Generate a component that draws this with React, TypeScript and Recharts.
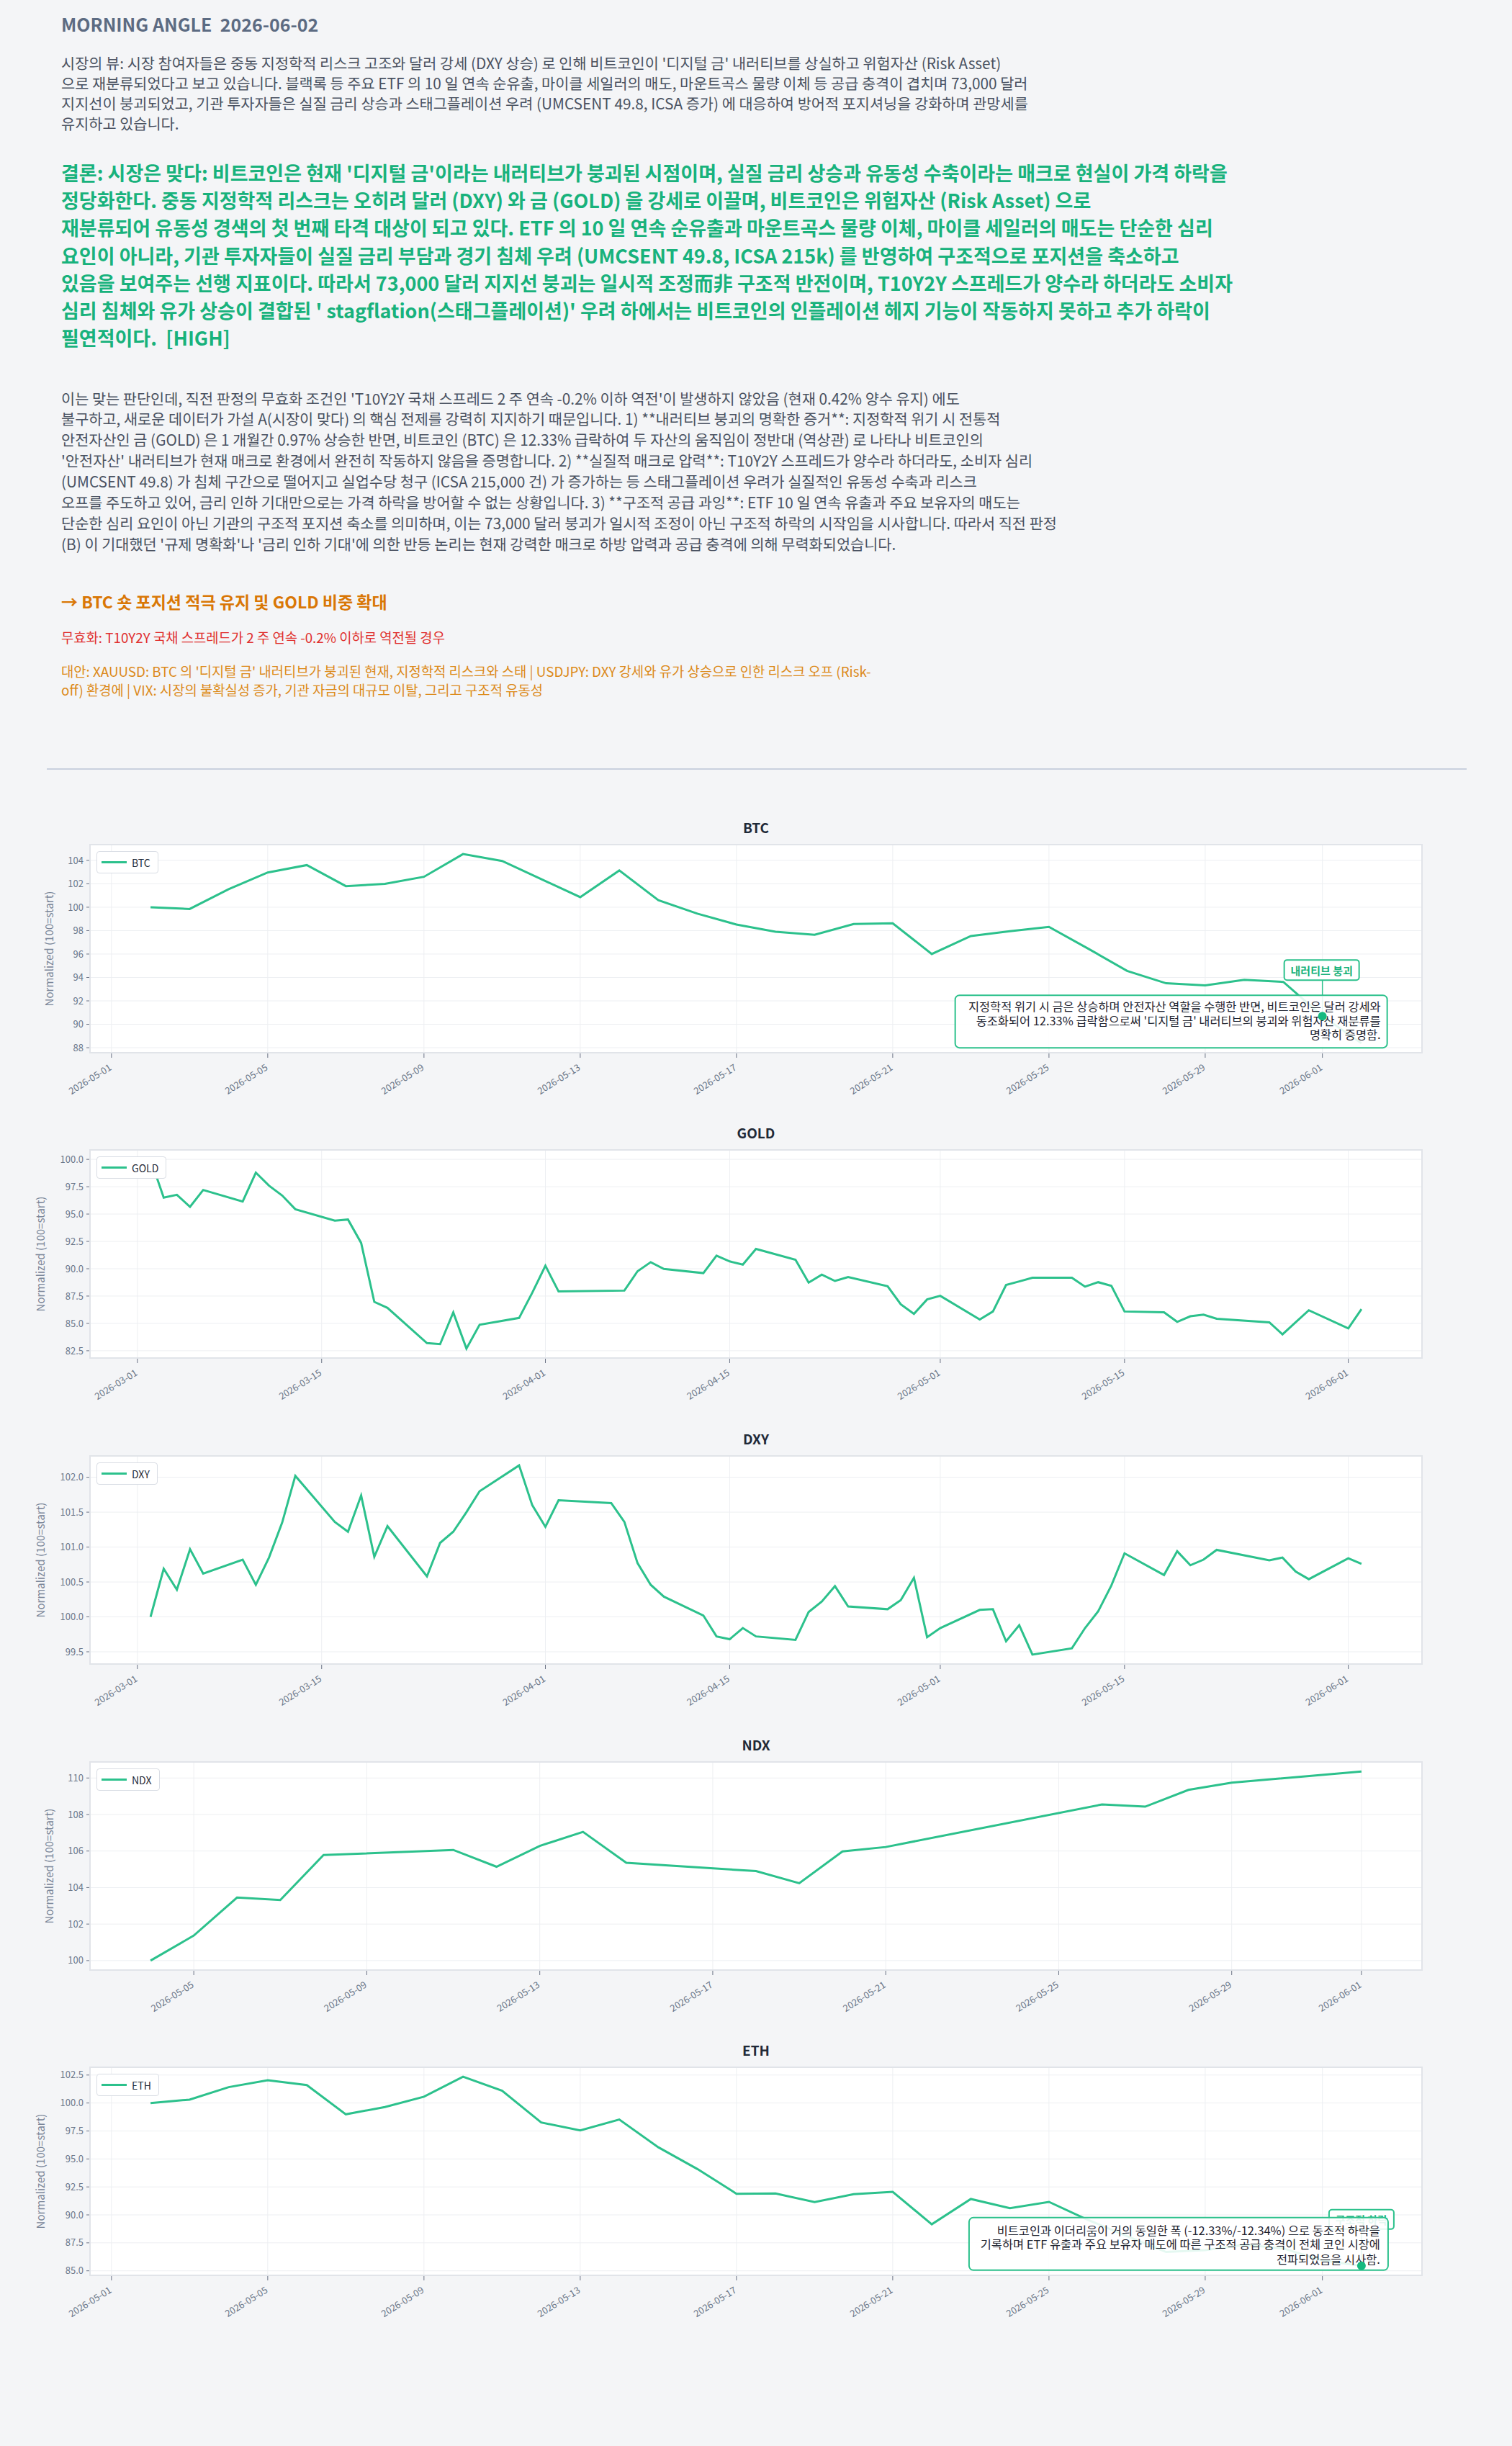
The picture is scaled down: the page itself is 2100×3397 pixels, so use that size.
import React from "react";
import { LineChart, Line, XAxis, YAxis, CartesianGrid, Legend } from "recharts";

const FONT = "'Noto Sans CJK KR', 'Noto Sans', sans-serif";
const GREEN = "#2cc18c";
const TEXT_GREEN = "#18b27c";
const AXIS_GRAY = "#6b7789";

// ---- series ----
const BTC_DATES = [
  "2026-05-02", "2026-05-03", "2026-05-04", "2026-05-05", "2026-05-06", "2026-05-07", "2026-05-08", "2026-05-09",
  "2026-05-10", "2026-05-11", "2026-05-12", "2026-05-13", "2026-05-14", "2026-05-15", "2026-05-16", "2026-05-17",
  "2026-05-18", "2026-05-19", "2026-05-20", "2026-05-21", "2026-05-22", "2026-05-23", "2026-05-24", "2026-05-25",
  "2026-05-26", "2026-05-27", "2026-05-28", "2026-05-29", "2026-05-30", "2026-05-31", "2026-06-01", "2026-06-02",
];
const BTC_VALUES = [
  100.0, 99.85, 101.54, 102.97, 103.6, 101.8, 102.0, 102.6,
  104.54, 103.95, 102.4, 100.86, 103.14, 100.6, 99.45, 98.52,
  97.9, 97.64, 98.56, 98.63, 96.0, 97.54, 97.95, 98.32,
  96.47, 94.56, 93.5, 93.33, 93.8, 93.62, 90.7, 88.38,
];

const ETH_DATES = BTC_DATES;
const ETH_VALUES = [
  100.0, 100.3, 101.42, 102.03, 101.6, 98.99, 99.64, 100.56,
  102.35, 101.1, 98.26, 97.55, 98.52, 96.04, 94.1, 91.89,
  91.91, 91.14, 91.85, 92.06, 89.16, 91.42, 90.6, 91.16,
  89.55, 88.1, 86.68, 86.85, 87.33, 87.0, 85.93, 85.44,
];

const GOLD_DATES = [
  "2026-03-02", "2026-03-03", "2026-03-04", "2026-03-05", "2026-03-06", "2026-03-09", "2026-03-10", "2026-03-11",
  "2026-03-12", "2026-03-13", "2026-03-16", "2026-03-17", "2026-03-18", "2026-03-19", "2026-03-20", "2026-03-23",
  "2026-03-24", "2026-03-25", "2026-03-26", "2026-03-27", "2026-03-30", "2026-03-31", "2026-04-01", "2026-04-02",
  "2026-04-07", "2026-04-08", "2026-04-09", "2026-04-10", "2026-04-13", "2026-04-14", "2026-04-15", "2026-04-16",
  "2026-04-17", "2026-04-20", "2026-04-21", "2026-04-22", "2026-04-23", "2026-04-24", "2026-04-27", "2026-04-28",
  "2026-04-29", "2026-04-30", "2026-05-01", "2026-05-04", "2026-05-05", "2026-05-06", "2026-05-07", "2026-05-08",
  "2026-05-11", "2026-05-12", "2026-05-13", "2026-05-14", "2026-05-15", "2026-05-18", "2026-05-19", "2026-05-20",
  "2026-05-21", "2026-05-22", "2026-05-26", "2026-05-27", "2026-05-28", "2026-05-29", "2026-06-01", "2026-06-02",
];
const GOLD_VALUES = [
  100.0, 96.5, 96.76, 95.66, 97.2, 96.15, 98.79, 97.6,
  96.7, 95.44, 94.4, 94.5, 92.36, 86.97, 86.42, 83.2,
  83.1, 86.0, 82.7, 84.88, 85.5, 87.8, 90.27, 87.92,
  88.0, 89.77, 90.6, 89.98, 89.6, 91.2, 90.67, 90.38,
  91.81, 90.82, 88.73, 89.46, 88.88, 89.24, 88.4, 86.75,
  85.87, 87.19, 87.52, 85.36, 86.09, 88.51, 88.84, 89.17,
  89.17, 88.36, 88.77, 88.44, 86.09, 86.02, 85.14, 85.65,
  85.8, 85.43, 85.1, 84.0, 85.1, 86.2, 84.55, 86.3,
];

const DXY_DATES = [
  "2026-03-02", "2026-03-03", "2026-03-04", "2026-03-05", "2026-03-06", "2026-03-09", "2026-03-10", "2026-03-11",
  "2026-03-12", "2026-03-13", "2026-03-16", "2026-03-17", "2026-03-18", "2026-03-19", "2026-03-20", "2026-03-23",
  "2026-03-24", "2026-03-25", "2026-03-26", "2026-03-27", "2026-03-30", "2026-03-31", "2026-04-01", "2026-04-02",
  "2026-04-06", "2026-04-07", "2026-04-08", "2026-04-09", "2026-04-10", "2026-04-13", "2026-04-14", "2026-04-15",
  "2026-04-16", "2026-04-17", "2026-04-20", "2026-04-21", "2026-04-22", "2026-04-23", "2026-04-24", "2026-04-27",
  "2026-04-28", "2026-04-29", "2026-04-30", "2026-05-01", "2026-05-04", "2026-05-05", "2026-05-06", "2026-05-07",
  "2026-05-08", "2026-05-11", "2026-05-12", "2026-05-13", "2026-05-14", "2026-05-15", "2026-05-18", "2026-05-19",
  "2026-05-20", "2026-05-21", "2026-05-22", "2026-05-26", "2026-05-27", "2026-05-28", "2026-05-29", "2026-06-01",
  "2026-06-02",
];
const DXY_VALUES = [
  100.0, 100.69, 100.39, 100.97, 100.62, 100.82, 100.46, 100.85,
  101.35, 102.02, 101.36, 101.22, 101.74, 100.86, 101.3, 100.58,
  101.06, 101.22, 101.5, 101.8, 102.17, 101.6, 101.29, 101.67,
  101.63, 101.36, 100.77, 100.46, 100.29, 100.02, 99.72, 99.68,
  99.84, 99.72, 99.67, 100.07, 100.22, 100.44, 100.15, 100.11,
  100.24, 100.56, 99.71, 99.84, 100.1, 100.11, 99.65, 99.88,
  99.46, 99.55, 99.84, 100.08, 100.45, 100.91, 100.6, 100.94,
  100.74, 100.82, 100.96, 100.81, 100.85, 100.65, 100.54, 100.84,
  100.76,
];

const NDX_DATES = [
  "2026-05-04", "2026-05-05", "2026-05-06", "2026-05-07", "2026-05-08", "2026-05-11", "2026-05-12", "2026-05-13",
  "2026-05-14", "2026-05-15", "2026-05-18", "2026-05-19", "2026-05-20", "2026-05-21", "2026-05-26", "2026-05-27",
  "2026-05-28", "2026-05-29", "2026-06-01",
];
const NDX_VALUES = [
  100.0, 101.37, 103.45, 103.32, 105.78, 106.06, 105.14, 106.28,
  107.05, 105.36, 104.9, 104.24, 105.98, 106.22, 108.55, 108.43,
  109.35, 109.74, 110.36,
];

// ---- axis ticks ----
const MAY_TICKS = ["2026-05-01", "2026-05-05", "2026-05-09", "2026-05-13", "2026-05-17", "2026-05-21", "2026-05-25", "2026-05-29", "2026-06-01"];
const NDX_TICKS = ["2026-05-05", "2026-05-09", "2026-05-13", "2026-05-17", "2026-05-21", "2026-05-25", "2026-05-29", "2026-06-01"];
const QUARTER_TICKS = ["2026-03-01", "2026-03-15", "2026-04-01", "2026-04-15", "2026-05-01", "2026-05-15", "2026-06-01"];
const BTC_Y_TICKS = [88, 90, 92, 94, 96, 98, 100, 102, 104];
const GOLD_Y_TICKS = [82.5, 85, 87.5, 90, 92.5, 95, 97.5, 100];
const DXY_Y_TICKS = [99.5, 100, 100.5, 101, 101.5, 102];
const NDX_Y_TICKS = [100, 102, 104, 106, 108, 110];
const ETH_Y_TICKS = [85, 87.5, 90, 92.5, 95, 97.5, 100, 102.5];

// ---- text ----
const VIEW_LINES = [
  "시장의 뷰: 시장 참여자들은 중동 지정학적 리스크 고조와 달러 강세 (DXY 상승) 로 인해 비트코인이 '디지털 금' 내러티브를 상실하고 위험자산 (Risk Asset)",
  "으로 재분류되었다고 보고 있습니다. 블랙록 등 주요 ETF 의 10 일 연속 순유출, 마이클 세일러의 매도, 마운트곡스 물량 이체 등 공급 충격이 겹치며 73,000 달러",
  "지지선이 붕괴되었고, 기관 투자자들은 실질 금리 상승과 스태그플레이션 우려 (UMCSENT 49.8, ICSA 증가) 에 대응하여 방어적 포지셔닝을 강화하며 관망세를",
  "유지하고 있습니다.",
];
const VERDICT_LINES = [
  "결론: 시장은 맞다: 비트코인은 현재 '디지털 금'이라는 내러티브가 붕괴된 시점이며, 실질 금리 상승과 유동성 수축이라는 매크로 현실이 가격 하락을",
  "정당화한다. 중동 지정학적 리스크는 오히려 달러 (DXY) 와 금 (GOLD) 을 강세로 이끌며, 비트코인은 위험자산 (Risk Asset) 으로",
  "재분류되어 유동성 경색의 첫 번째 타격 대상이 되고 있다. ETF 의 10 일 연속 순유출과 마운트곡스 물량 이체, 마이클 세일러의 매도는 단순한 심리",
  "요인이 아니라, 기관 투자자들이 실질 금리 부담과 경기 침체 우려 (UMCSENT 49.8, ICSA 215k) 를 반영하여 구조적으로 포지션을 축소하고",
  "있음을 보여주는 선행 지표이다. 따라서 73,000 달러 지지선 붕괴는 일시적 조정而非 구조적 반전이며, T10Y2Y 스프레드가 양수라 하더라도 소비자",
  "심리 침체와 유가 상승이 결합된 ' stagflation(스태그플레이션)' 우려 하에서는 비트코인의 인플레이션 헤지 기능이 작동하지 못하고 추가 하락이",
  "필연적이다.  [HIGH]",
];
const REASON_LINES = [
  "이는 맞는 판단인데, 직전 판정의 무효화 조건인 'T10Y2Y 국채 스프레드 2 주 연속 -0.2% 이하 역전'이 발생하지 않았음 (현재 0.42% 양수 유지) 에도",
  "불구하고, 새로운 데이터가 가설 A(시장이 맞다) 의 핵심 전제를 강력히 지지하기 때문입니다. 1) **내러티브 붕괴의 명확한 증거**: 지정학적 위기 시 전통적",
  "안전자산인 금 (GOLD) 은 1 개월간 0.97% 상승한 반면, 비트코인 (BTC) 은 12.33% 급락하여 두 자산의 움직임이 정반대 (역상관) 로 나타나 비트코인의",
  "'안전자산' 내러티브가 현재 매크로 환경에서 완전히 작동하지 않음을 증명합니다. 2) **실질적 매크로 압력**: T10Y2Y 스프레드가 양수라 하더라도, 소비자 심리",
  "(UMCSENT 49.8) 가 침체 구간으로 떨어지고 실업수당 청구 (ICSA 215,000 건) 가 증가하는 등 스태그플레이션 우려가 실질적인 유동성 수축과 리스크",
  "오프를 주도하고 있어, 금리 인하 기대만으로는 가격 하락을 방어할 수 없는 상황입니다. 3) **구조적 공급 과잉**: ETF 10 일 연속 유출과 주요 보유자의 매도는",
  "단순한 심리 요인이 아닌 기관의 구조적 포지션 축소를 의미하며, 이는 73,000 달러 붕괴가 일시적 조정이 아닌 구조적 하락의 시작임을 시사합니다. 따라서 직전 판정",
  "(B) 이 기대했던 '규제 명확화'나 '금리 인하 기대'에 의한 반등 논리는 현재 강력한 매크로 하방 압력과 공급 충격에 의해 무력화되었습니다.",
];
const ACTION = "→ BTC 숏 포지션 적극 유지 및 GOLD 비중 확대";
const INVALIDATION = "무효화: T10Y2Y 국채 스프레드가 2 주 연속 -0.2% 이하로 역전될 경우";
const ALT_LINES = [
  "대안: XAUUSD: BTC 의 '디지털 금' 내러티브가 붕괴된 현재, 지정학적 리스크와 스태 | USDJPY: DXY 강세와 유가 상승으로 인한 리스크 오프 (Risk-",
  "off) 환경에 | VIX: 시장의 불확실성 증가, 기관 자금의 대규모 이탈, 그리고 구조적 유동성",
];

type Note = {
  date: string;
  tag: string;
  tagBox: [number, number, number, number];
  box: [number, number, number, number];
  textRight: number;
  lineY: number[];
  lines: string[];
};

const BTC_NOTE: Note = {
  date: "2026-06-01",
  tag: "내러티브 붕괴",
  tagBox: [-53, -78, 104, 28],
  box: [-510, -29, 600, 73],
  textRight: 81,
  lineY: [-14, 5.5, 25],
  lines: [
    "지정학적 위기 시 금은 상승하며 안전자산 역할을 수행한 반면, 비트코인은 달러 강세와",
    "동조화되어 12.33% 급락함으로써 '디지털 금' 내러티브의 붕괴와 위험자산 재분류를",
    "명확히 증명함.",
  ],
};
const ETH_NOTE: Note = {
  date: "2026-06-02",
  tag: "구조적 하락",
  tagBox: [-45, -78, 90, 27],
  box: [-545, -67, 582, 73],
  textRight: 26,
  lineY: [-50, -30.5, -10],
  lines: [
    "비트코인과 이더리움이 거의 동일한 폭 (-12.33%/-12.34%) 으로 동조적 하락을",
    "기록하며 ETF 유출과 주요 보유자 매도에 따른 구조적 공급 충격이 전체 코인 시장에",
    "전파되었음을 시사함.",
  ],
};

const DAY = 86400000;
const toDay = (s: string) => {
  const [y, m, d] = s.split("-").map(Number);
  return Date.UTC(y, m - 1, d) / DAY;
};
const fmtDay = (n: number) => new Date(Math.round(n) * DAY).toISOString().slice(0, 10);
// 5% padding on both sides of the data range
const pad = (lo: number, hi: number): [number, number] => {
  const r = hi - lo;
  return [lo - r * 0.05, hi + r * 0.05];
};

function TextLines(props: {
  x: number; y: number; lh: number; size: number; color: string; weight?: number; lines: string[];
}) {
  const { x, y, lh, size, color, weight = 400, lines } = props;
  return (
    <div
      style={{
        position: "absolute", left: x, top: y - lh / 2, fontSize: size, lineHeight: `${lh}px`,
        color, fontWeight: weight, fontFamily: FONT, whiteSpace: "pre",
      }}
    >
      {lines.map((l, i) => (
        <div key={i}>{l}</div>
      ))}
    </div>
  );
}

function DateTick(props: any) {
  const { x, y, payload } = props;
  const ty = y + 14;
  return (
    <text
      x={x + 1} y={ty} transform={`rotate(-32 ${x + 1} ${ty})`} textAnchor="end"
      fill={AXIS_GRAY} fontSize={13} fontFamily={FONT}
    >
      {fmtDay(payload.value)}
    </text>
  );
}

function NoteMark({ cx, cy, note }: { cx: number; cy: number; note: Note }) {
  const [tx, ty, tw, th] = note.tagBox;
  const [bx, by, bw, bh] = note.box;
  return (
    <g>
      <line x1={cx} y1={cy + ty + th} x2={cx} y2={cy} stroke={GREEN} strokeWidth={1.5} />
      <rect x={cx + tx} y={cy + ty} width={tw} height={th} rx={4} fill="#fff" stroke={GREEN} strokeWidth={2} />
      <text
        x={cx + tx + tw / 2} y={cy + ty + th / 2} textAnchor="middle" dominantBaseline="central"
        fontSize={15} fontWeight={700} fill={TEXT_GREEN} fontFamily={FONT}
      >
        {note.tag}
      </text>
      <rect
        x={cx + bx} y={cy + by} width={bw} height={bh} rx={6}
        fill="#fff" fillOpacity={0.88} stroke={GREEN} strokeWidth={2}
      />
      {note.lines.map((l, i) => (
        <text
          key={i} x={cx + note.textRight} y={cy + note.lineY[i]} textAnchor="end" dominantBaseline="central"
          fontSize={16.4} fill="#1f2430" fontFamily={FONT}
        >
          {l}
        </text>
      ))}
      <circle cx={cx} cy={cy} r={6} fill="#16b97f" />
    </g>
  );
}

const CHART_W = 1960;
const PLOT_H = 289;
const TOP_GAP = 10;
const X_AXIS_H = 70;

function Panel(props: {
  name: string; dates: string[]; values: number[]; xTicks: string[]; yTicks: number[];
  yDigits: number; plotTop: number; yLabelX: number; note?: Note;
}) {
  const { name, dates, values, xTicks, yTicks, yDigits, plotTop, yLabelX, note } = props;
  const data = dates.map((d, i) => ({ t: toDay(d), v: values[i] }));
  const xDomain = pad(data[0].t, data[data.length - 1].t);
  const yDomain = pad(Math.min(...values), Math.max(...values));
  const noteIdx = note ? dates.indexOf(note.date) : -1;
  const chartTop = plotTop - TOP_GAP;
  const height = TOP_GAP + PLOT_H + X_AXIS_H;

  return (
    <>
      <div
        style={{
          position: "absolute", left: 125, width: 1850, top: plotTop - 36, height: 24, lineHeight: "24px",
          textAlign: "center", fontFamily: FONT, fontWeight: 700, fontSize: 19, color: "#1f2937",
        }}
      >
        {name}
      </div>
      <div style={{ position: "absolute", left: 40, top: chartTop, width: CHART_W, height }}>
        <LineChart width={CHART_W} height={height} data={data} margin={{ top: TOP_GAP, right: 25, bottom: 0, left: 0 }}>
          <CartesianGrid stroke="#edeff2" fill="#ffffff" />
          <XAxis
            dataKey="t" type="number" domain={xDomain} ticks={xTicks.map(toDay)} height={X_AXIS_H}
            axisLine={false} tickLine={{ stroke: "#6b7385" }} tickSize={7} tick={<DateTick />}
          />
          <YAxis
            type="number" domain={yDomain} ticks={yTicks} width={85} axisLine={false}
            tickLine={{ stroke: "#6b7385" }} tickSize={5} tickMargin={4}
            tickFormatter={(v: number) => v.toFixed(yDigits)}
            tick={{ fill: AXIS_GRAY, fontSize: 13, fontFamily: FONT }}
            label={{
              position: "insideLeft",
              content: (p: any) => {
                const vb = p.viewBox || {};
                const cy = (vb.y ?? TOP_GAP) + (vb.height ?? PLOT_H) / 2;
                const x = yLabelX - 40;
                return (
                  <text
                    x={x} y={cy} transform={`rotate(-90 ${x} ${cy})`} textAnchor="middle" dominantBaseline="central"
                    fill="#7a8699" fontSize={15} fontFamily={FONT}
                  >
                    Normalized (100=start)
                  </text>
                );
              },
            }}
          />
          <Legend
            layout="horizontal" verticalAlign="middle" align="center"
            wrapperStyle={{ top: TOP_GAP + 9, left: 94, width: "auto" }}
            content={() => (
              <div
                style={{
                  display: "flex", alignItems: "center", height: 31, boxSizing: "border-box",
                  padding: "0 10px 0 6px", background: "#fff", border: "1.5px solid #d9dde4", borderRadius: 4,
                  fontFamily: FONT, fontSize: 14, color: "#1f2937",
                }}
              >
                <span style={{ display: "inline-block", width: 35, height: 3, background: GREEN, marginRight: 7 }} />
                {name}
              </div>
            )}
          />
          <Line
            dataKey="v" name={name} type="linear" stroke={GREEN} strokeWidth={3} isAnimationActive={false}
            dot={(p: any) =>
              p.index === noteIdx && note ? (
                <NoteMark key="note" cx={p.cx} cy={p.cy} note={note} />
              ) : (
                <g key={`d${p.index}`} />
              )
            }
            activeDot={false}
          />
        </LineChart>
        <div
          style={{
            position: "absolute", left: 85, top: TOP_GAP - 1, width: 1850 + 2, height: PLOT_H + 2,
            marginLeft: -1, border: "2px solid #e1e4e9", boxSizing: "border-box", pointerEvents: "none",
          }}
        />
      </div>
    </>
  );
}

export default function App() {
  return (
    <div style={{ position: "absolute", left: 0, top: 0, width: 2100, height: 3397, background: "#f4f5f7", overflow: "hidden" }}>
      <TextLines x={85} y={33} lh={30} size={25} weight={700} color="#5c6b82" lines={["MORNING ANGLE  2026-06-02"]} />
      <TextLines x={85} y={87} lh={28} size={20.8} color="#4a5261" lines={VIEW_LINES} />
      <TextLines x={85} y={240} lh={38.2} size={27} weight={700} color={TEXT_GREEN} lines={VERDICT_LINES} />
      <TextLines x={85} y={553} lh={28.9} size={20.8} color="#4a5261" lines={REASON_LINES} />
      <TextLines x={85} y={835} lh={30} size={23} weight={700} color="#d97706" lines={[ACTION]} />
      <TextLines x={85} y={884} lh={25} size={18.8} color="#e0302f" lines={[INVALIDATION]} />
      <TextLines x={85} y={932} lh={25.5} size={18.8} color="#dc8a1a" lines={ALT_LINES} />
      <div style={{ position: "absolute", left: 65, top: 1067, width: 1972, height: 2, background: "#c9d0de" }} />

      <Panel name="BTC" dates={BTC_DATES} values={BTC_VALUES} xTicks={MAY_TICKS} yTicks={BTC_Y_TICKS} yDigits={0} plotTop={1173} yLabelX={67} note={BTC_NOTE} />
      <Panel name="GOLD" dates={GOLD_DATES} values={GOLD_VALUES} xTicks={QUARTER_TICKS} yTicks={GOLD_Y_TICKS} yDigits={1} plotTop={1597} yLabelX={55} />
      <Panel name="DXY" dates={DXY_DATES} values={DXY_VALUES} xTicks={QUARTER_TICKS} yTicks={DXY_Y_TICKS} yDigits={1} plotTop={2022} yLabelX={55} />
      <Panel name="NDX" dates={NDX_DATES} values={NDX_VALUES} xTicks={NDX_TICKS} yTicks={NDX_Y_TICKS} yDigits={0} plotTop={2447} yLabelX={67} />
      <Panel name="ETH" dates={ETH_DATES} values={ETH_VALUES} xTicks={MAY_TICKS} yTicks={ETH_Y_TICKS} yDigits={1} plotTop={2871} yLabelX={55} note={ETH_NOTE} />
    </div>
  );
}
